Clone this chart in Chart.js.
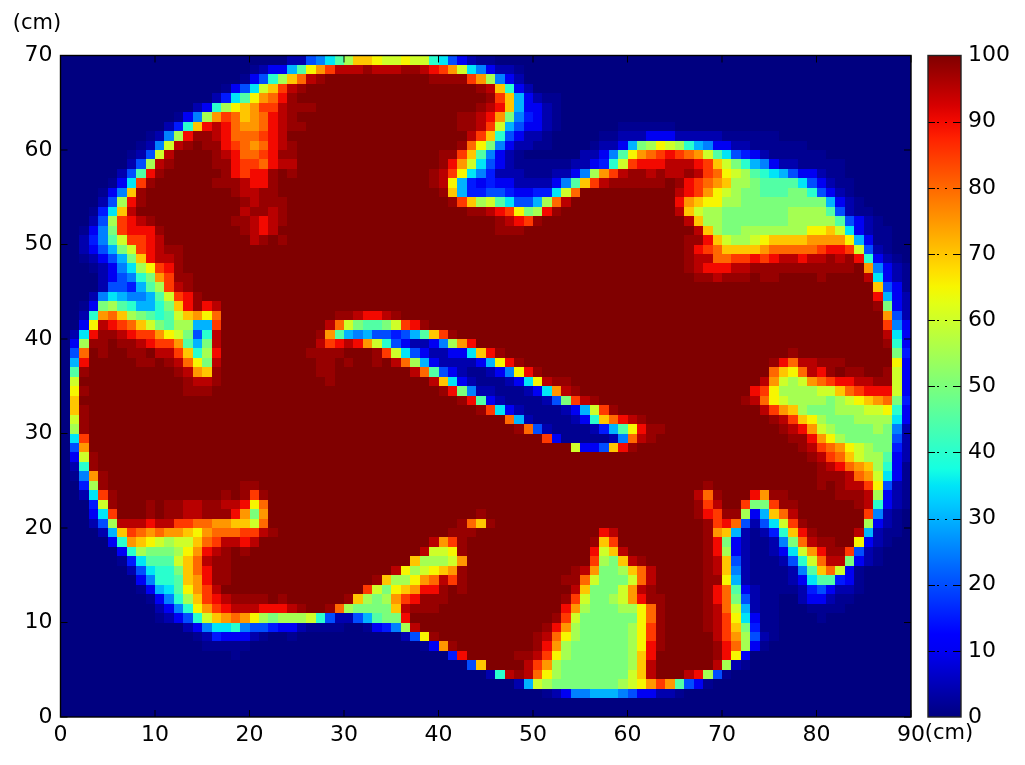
<!DOCTYPE html>
<html lang="en">

<head>
    <meta charset="UTF-8">
    <title>Heat map</title>
    <script src="https://cdn.jsdelivr.net/npm/chart.js"></script>
    <style>
        html, body { margin: 0; padding: 0; background: #fff; overflow: hidden; }
        #heatChart { position: absolute; left: 0; top: 0; }
        #barChart { position: absolute; left: 920px; top: 0; }
    </style>
</head>

<body>
    <canvas id="heatChart" width="1025" height="765"></canvas>
    <canvas id="barChart" width="105" height="765"></canvas>

<script>
    const xTicks = [0, 10, 20, 30, 40, 50, 60, 70, 80, 90];
    const yTicks = [0, 10, 20, 30, 40, 50, 60, 70];
    const barTicks = [0, 10, 20, 30, 40, 50, 60, 70, 80, 90, 100];
    const unitLabel = "(cm)";

    // one letter per level
    const levelNames = "aAbcdefghijklmnopqrstTu";
    const levelValues = [0, 1.5, 4, 10, 15, 20, 25, 30, 35, 40, 45, 50, 55, 60, 65, 70, 75, 80, 85, 90, 95, 98, 100];

    // rows from y=70 down to y=0, "col:letters", last letter runs on to the next col
    const cellRows = [
        "0:a 24:bbefhjloonmmnmmihecbAAa",
        "0:a 20:Abccgjnprttt 32:Tttt 36:TTts 40:rpmhfcbbAa",
        "0:a 19:AceiloqtTu 39:TTTTrplfcba",
        "0:a 17:AcehmortTu 44:Ttoicba",
        "0:a 16:bdhjnpqsTu 45:TrogcbAAa",
        "0:a 14:bcilnoprrtTTTu 44:TtsogccbAa",
        "0:a 12:AcflprqopqstTu 42:TTtspkfdcbAa",
        "0:a 11:bdiostsqppqstTTu 42:TTtrmgeccbAa 59:A 65:a",
        "0:a 9:AbflsTTtsqqqrstu 43:troiecbbAa 57:AAb 60:bbcccbbbb 70:A 76:a",
        "0:a 8:AbfmtTuTTsrqpqstTu 42:TqnkfcbbAAa 56:Abbc 60:gklnmligfccbbA 79:a",
        "0:a 7:Abemtu 16:TtsqqrsTTu 40:TTrojfcbAa 55:bbcfj 60:npqrsrqpmjhedcbA 81:a",
        "0:a 7:beltTu 16:TTsrrqsttu 40:TspmhecbA 53:Abbcdim 60:rssstttsromkigfcbbA 83:a",
        "0:a 6:bejsTu 17:TsrssTuTu 39:TtrnhfdbbbA 52:bbcflprt 60:TTtTttTtrqnmljihgeccbAA 83:a",
        "0:a 5:AchrTu 16:TTTtssTu 39:TtngdcdccbbbbcfjortTT 60:TTTTuTsrqpollkjjjjhecbAAa",
        "0:a 4:AcfoTu 18:TttTTu 40:Togddeedccddhmqu 65:tsrpnmlkkjjjkkiecbAa",
        "0:a 4:belsTu 19:TtTTTu 41:Trolmjheeglqtu 65:sponnllk 81:gcbAa",
        "0:a 3:Adhotu 19:tTTtTu 43:TTtsrnklsTu 65:tomllk 77:l 81:jebAAa",
        "0:a 3:belrstTu 18:TTtstTu 46:TtsrTu 66:tollk 77:l 82:jecbAa",
        "0:a 2:AcfkrsssTu 19:Ttstu 46:TTTu 67:tolkkl 79:nnomhcbAAa",
        "0:a 2:bdfjmrrstu 20:tTuTu 66:TTsomllmnoooopppp 83:ngcAAa",
        "0:a 2:bcegkmrstTTu 66:TsrqoooopqqqqqrssrmebAa",
        "0:a 2:AbcegkosttTu 66:TttqqrrsrsttsttTtTsicbAa",
        "0:a 3:AbcfhlnrsTu 66:TtsssttT 84:upfcbA",
        "0:a 4:bcefikprTTu 67:TTtTTTu 74:TTu 80:Tu 85:thcbA",
        "0:a 4:beedgjlrtTu 86:oecA",
        "0:a 3:bfhgffgjmrsTu 86:sgcb",
        "0:a 2:AckljiggikosTstu 86:Tkcb",
        "0:a 2:bipqolkjijmopnqu 29:TTtsstTu 87:peb",
        "0:a 2:cntsrqomkjllggru 28:tqmkjjkmrsTu 87:rfc",
        "0:a 1:bhsTTtsrrpnmkeitu 27:TpjgfgeedegjorTu 87:thc",
        "0:a 1:clTTuTTtsrrpjgktu 27:trstspmiecbbcflpsu 87:Tic",
        "0:a 1:equTuuTTuttroilsu 26:TTTTu 33:TrmhecbbcchosTu 77:Tu 88:kd",
        "0:a 1:gsu 8:TTuTtqnktu 27:TTu 30:Tu 33:Tu 35:tqlgcbbbbcgnsTu 75:TsqttTTTu 88:nc",
        "0:a 1:jTu 12:TtpoTu 27:TTu 37:tqjecbAAbcfnsTu 75:qonqtsTuTTu 87:Tmc",
        "0:a 1:mu 13:TttTu 28:Tu 39:tohcbAAAbchntTTu 74:tpmlmpqrssttTTmc",
        "0:a 1:nTu 13:TTTu 40:TskfbbAAAbchptTu 73:srnllllmmoqrsssmc",
        "0:a 1:ou 42:TsjcbA 51:bekrtTu 72:Ttqnmllllklmnopqkd",
        "0:a 1:oTu 44:TrhcbA 53:bcgmrTu 74:trpolkkklllmmnic",
        "0:a 1:mTu 47:qgbA 54:bcioqstTu 75:Ttronlkkkllllhc",
        "0:a 1:lTu 48:TqebA 56:bdgjnsTTu 76:Ttspmlkkkklkfb",
        "0:a 1:hru 51:rcA 58:bfqtTu 77:TTspnlkkkkkeb",
        "0:a 1:epu 54:mcceosTu 78:Ttrqpnmlkkdb",
        "0:a 1:cmTu 79:Ttrqomlljcb",
        "0:a 1:biTu 80:TtsqpolicA",
        "0:a 1:AfpTu 80:TTTtqpmhcA",
        "0:a 2:dlTu 19:TTu 68:Tu 80:TuTttrnebA",
        "0:a 2:bhrTu 17:Tu 19:TrTu 67:tqTu 73:spTTu 82:TTTtlcbA",
        "0:a 3:dmTuuuTuTTttTTttsnqu 67:Trtu 72:rkkrTTu 84:TticbA",
        "0:a 3:chruuuTuTTttTTTspkpu 44:Tu 67:TsrTTlcgoqtu 85:rfbAa",
        "0:a 3:beltttsttrrqqppoomqu 42:TqoTu 68:TrsqebehmrTu 85:lcbAa",
        "0:a 4:bgorqpqpponpqqqrrtTu 41:TTTu 57:stu 68:TpogbAbdiosTu 84:tgbAAa",
        "0:a 5:ciponmlmmoqrttstu 39:tprTu 56:Toru 68:TskcbAAbfkqtTTu 84:ncbAa",
        "0:a 6:cilkkklnpstTuTu 38:tmmnTu 56:smot 60:u 68:TslcbAAbchmpsTTrebAa",
        "0:a 6:AdhjjjmoqtTTu 37:olllmpu 56:rlkotTu 68:TtoebAAAbeimqttkcbAa",
        "0:a 7:behiikoqsTTu 35:tnlmnopTu 54:Ttpkkloqtu 68:TtofbA 77:bfjoqmcAa",
        "0:a 8:cfiijopsTTu 33:TollnpqtrTu 53:TTqmkkk 60:mqtu 68:TTngbA 77:bchjjdcAa",
        "0:a 8:Acghjnprtu 32:rmknopssTuTu 54:tokkkmptTu 68:TsqjcbA 78:bdecbbAa",
        "0:a 9:AcfilorstTTTTuTu 30:TolklprsTTTu 53:TrmkklmpsTTu 68:TsqkebAAa 78:bccbAAa",
        "0:a 10:bcfinprstttssstTuuTq 30:lkkkkotTTTu 53:splkkkl 60:lnqTu 68:TtqmgbAAa 79:A 83:a",
        "0:a 10:Abceimopqpnlklllmiebbegjkksu 52:Trmk 60:knqTu 68:TtrnhcAAa 80:Aa",
        "0:a 13:bcfhhifeedccbAAAAa 32:Acdfltu 51:Tsplk 60:lnrTu 68:TtrokdAAa",
        "0:a 14:AbdcccbAa 24:Aa 36:benTu 50:Ttqnlk 60:lnrTu 69:trplebAa",
        "0:a 15:A 20:a 38:AcpTu 50:Tsplk 60:lnsTu 69:TsqlcAa",
        "0:a 18:Aa 41:dsu 48:TTtrnlk 60:losu 69:Tsnca",
        "0:a 43:eou 49:trplk 60:lotu 69:tlbAa",
        "0:a 45:bitTtqnlk 60:motu 66:tsleAa",
        "0:a 48:bgmlk 59:l 60:mnprpjecAa",
        "0:a 51:AbcffgggfeccbbAa",
        "0:a",
        "0:a"
    ];

    // matplotlib's jet, v from 0 to 1
    function jet(v) {
        const ramp = (pts) => {
            for (let i = 1; i < pts.length; i++) {
                if (v <= pts[i][0]) {
                    const t = (v - pts[i - 1][0]) / (pts[i][0] - pts[i - 1][0]);
                    return pts[i - 1][1] + t * (pts[i][1] - pts[i - 1][1]);
                }
            }
            return pts[pts.length - 1][1];
        };
        const r = ramp([[0, 0], [0.35, 0], [0.66, 1], [0.89, 1], [1, 0.5]]);
        const g = ramp([[0, 0], [0.125, 0], [0.375, 1], [0.64, 1], [0.91, 0], [1, 0]]);
        const b = ramp([[0, 0.5], [0.11, 1], [0.34, 1], [0.65, 0], [1, 0]]);
        return `rgb(${Math.round(r * 255)},${Math.round(g * 255)},${Math.round(b * 255)})`;
    }

    function montarCelulas() {
        const pontos = [];
        cellRows.forEach((linha, r) => {
            const partes = linha.split(" ");
            partes.forEach((parte, p) => {
                const [ini, letras] = parte.split(":");
                const inicio = Number(ini);
                const fim = p + 1 < partes.length ? Number(partes[p + 1].split(":")[0]) : 90;
                for (let col = inicio; col < fim; col++) {
                    const letra = letras[Math.min(col - inicio, letras.length - 1)];
                    pontos.push({ x: col, y: 69 - r, v: levelValues[levelNames.indexOf(letra)] });
                }
            });
        });
        return pontos;
    }

    const heatPlugin = {
        id: "heatPlugin",
        beforeDatasetsDraw(chart) {
            const ctx = chart.ctx;
            const xs = chart.scales.x;
            const ys = chart.scales.y;
            ctx.save();
            chart.data.datasets[0].data.forEach(c => {
                const x0 = Math.round(xs.getPixelForValue(c.x));
                const x1 = Math.round(xs.getPixelForValue(c.x + 1));
                const y0 = Math.round(ys.getPixelForValue(c.y + 1));
                const y1 = Math.round(ys.getPixelForValue(c.y));
                ctx.fillStyle = jet(c.v / 100);
                ctx.fillRect(x0, y0, x1 - x0, y1 - y0);
            });
            ctx.restore();
        },
        afterDatasetsDraw(chart) {
            const ctx = chart.ctx;
            const a = chart.chartArea;
            const xs = chart.scales.x;
            const ys = chart.scales.y;
            ctx.save();
            ctx.strokeStyle = "#000";
            ctx.lineWidth = 1;
            ctx.beginPath();
            xTicks.forEach(t => {
                const px = xs.getPixelForValue(t);
                ctx.moveTo(px, a.top); ctx.lineTo(px, a.top + 7);
                ctx.moveTo(px, a.bottom); ctx.lineTo(px, a.bottom - 7);
            });
            yTicks.forEach(t => {
                const py = ys.getPixelForValue(t);
                ctx.moveTo(a.left, py); ctx.lineTo(a.left + 7, py);
                ctx.moveTo(a.right, py); ctx.lineTo(a.right - 7, py);
            });
            ctx.stroke();
            ctx.lineWidth = 1.4;
            ctx.strokeRect(a.left, a.top, a.right - a.left, a.bottom - a.top);

            ctx.fillStyle = "#000";
            ctx.font = '21px "DejaVu Sans"';
            ctx.textAlign = "center";
            ctx.textBaseline = "middle";
            ctx.fillText(unitLabel, 37, 24);
            ctx.fillText(unitLabel, 949, 734);
            ctx.restore();
        }
    };

    const colorBarPlugin = {
        id: "colorBarPlugin",
        afterDatasetsDraw(chart) {
            const ctx = chart.ctx;
            const a = chart.chartArea;
            const ys = chart.scales.y;
            ctx.save();
            ctx.strokeStyle = "#000";
            ctx.lineWidth = 1;
            barTicks.slice(1, -1).forEach(t => {
                const py = Math.round(ys.getPixelForValue(t)) + 0.5;
                ctx.setLineDash([]);
                ctx.beginPath();
                ctx.moveTo(a.left, py); ctx.lineTo(a.left + 7, py);
                ctx.moveTo(a.right, py); ctx.lineTo(a.right - 7, py);
                ctx.stroke();
                ctx.setLineDash([2, 6]);
                ctx.beginPath();
                ctx.moveTo(a.left + 9, py); ctx.lineTo(a.right - 7, py);
                ctx.stroke();
            });
            ctx.setLineDash([]);
            ctx.strokeStyle = "#222";
            ctx.lineWidth = 1.4;
            ctx.strokeRect(a.left, a.top, a.right - a.left, a.bottom - a.top);
            ctx.restore();
        }
    };

    new Chart(document.getElementById("heatChart"), {
        type: "scatter",
        data: { datasets: [{ data: montarCelulas(), pointRadius: 0, pointHoverRadius: 0 }] },
        options: {
            responsive: false,
            animation: false,
            events: [],
            layout: { padding: { left: 0, top: 55.5, right: 114, bottom: 0 } },
            plugins: { legend: { display: false }, tooltip: { enabled: false } },
            scales: {
                x: {
                    type: "linear", min: 0, max: 90,
                    grid: { display: false, drawTicks: false }, border: { display: false },
                    afterBuildTicks: s => { s.ticks = xTicks.map(v => ({ value: v })); },
                    afterFit: s => { s.height = 48; },
                    ticks: { color: "#000", font: { family: "DejaVu Sans", size: 22 }, padding: 5, maxRotation: 0, autoSkip: false }
                },
                y: {
                    type: "linear", min: 0, max: 70,
                    grid: { display: false, drawTicks: false }, border: { display: false },
                    afterBuildTicks: s => { s.ticks = yTicks.map(v => ({ value: v })); },
                    afterFit: s => { s.width = 60.5; },
                    ticks: { color: "#000", font: { family: "DejaVu Sans", size: 22 }, padding: 8, autoSkip: false }
                }
            }
        },
        plugins: [heatPlugin]
    });

    new Chart(document.getElementById("barChart"), {
        type: "bar",
        data: {
            labels: [""],
            datasets: [{
                data: [[barTicks[0], barTicks[barTicks.length - 1]]],
                barPercentage: 1,
                categoryPercentage: 1,
                backgroundColor: (c) => {
                    const a = c.chart.chartArea;
                    if (!a) return "#000";
                    const grad = c.chart.ctx.createLinearGradient(0, a.bottom, 0, a.top);
                    for (let i = 0; i <= 40; i++) grad.addColorStop(i / 40, jet(i / 40));
                    return grad;
                }
            }]
        },
        options: {
            responsive: false,
            animation: false,
            events: [],
            layout: { padding: { left: 8, top: 55.5, right: 0, bottom: 48 } },
            plugins: { legend: { display: false }, tooltip: { enabled: false } },
            scales: {
                x: { display: false },
                y: {
                    position: "right", min: 0, max: 100,
                    grid: { display: false, drawTicks: false }, border: { display: false },
                    afterBuildTicks: s => { s.ticks = barTicks.map(v => ({ value: v })); },
                    afterFit: s => { s.width = 64; },
                    ticks: { color: "#000", font: { family: "DejaVu Sans", size: 22 }, padding: 7, autoSkip: false }
                }
            }
        },
        plugins: [colorBarPlugin]
    });
</script>
</body>

</html>
